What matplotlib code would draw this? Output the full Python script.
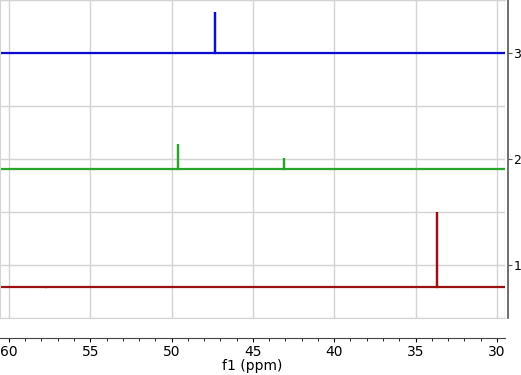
import numpy as np
import matplotlib
matplotlib.use("Agg")
import matplotlib.pyplot as plt
from matplotlib.ticker import MultipleLocator

# spectrum data
x_left, x_right = 60.55, 29.5
offsets = [0.79, 1.905, 3.0]          # baseline of each trace (1, 2, 3)
colors = ['#9b1111', '#2aa52a', '#0b0bd2']
peaks_1 = [57.7, 49.4, 33.69]
heights_1 = [0.01, 0.005, 0.71]
peaks_2 = [49.61, 43.09]
heights_2 = [0.235, 0.105]
peaks_3 = [47.34]
heights_3 = [0.39]
x_ticks = [60, 55, 50, 45, 40, 35, 30]
y_ticks = [1, 2, 3]

traces = [(peaks_1, heights_1), (peaks_2, heights_2), (peaks_3, heights_3)]


def stick_trace(peaks, heights, base):
    # baseline with vertical sticks at the peak positions
    xs = [x_left]
    ys = [base]
    for p, h in sorted(zip(peaks, heights), reverse=True):
        xs += [p, p, p]
        ys += [base, base + h, base]
    xs.append(x_right)
    ys.append(base)
    return np.array(xs), np.array(ys)


fig = plt.figure(figsize=(5.21, 3.75), dpi=100)
ax = fig.add_axes([0.0, (375 - 318) / 375, 505 / 521, 318 / 375])

for (pk, ht), base, c in zip(traces, offsets, colors):
    xs, ys = stick_trace(pk, ht, base)
    ax.plot(xs, ys, color=c, lw=1.6, solid_joinstyle='miter')

ax.set_xlim(x_left, x_right)
ax.set_ylim(0.5, 3.5)
ax.set_xticks(x_ticks)
ax.set_yticks(y_ticks)
ax.yaxis.set_minor_locator(MultipleLocator(0.5))
ax.grid(True, which='major', color='#d4d4d4', lw=1.0)
ax.grid(True, which='minor', axis='y', color='#d4d4d4', lw=1.0)
ax.set_axisbelow(True)
ax.tick_params(axis='x', bottom=False, labelbottom=False)
ax.yaxis.tick_right()
ax.tick_params(axis='y', which='minor', length=0)
ax.tick_params(axis='y', which='major', length=3, width=0.8, color='#555555',
               labelsize=9, pad=1)
ax.get_yticklabels()[2].set_fontsize(6)
for s in ['top', 'left', 'bottom']:
    ax.spines[s].set_color('#d4d4d4')
ax.spines['right'].set_color('#555555')
ax.spines['right'].set_linewidth(1.2)
ax.spines['right'].set_position(('outward', 2))
ax.axvline(x_right, color='#d4d4d4', lw=1.0, zorder=0)

# separate x axis below the traces
bx = fig.add_axes([0.0, (375 - 338) / 375, 505 / 521, 0.0001])
bx.set_xlim(x_left, x_right)
bx.set_xticks(x_ticks)
bx.xaxis.set_minor_locator(MultipleLocator(1))
bx.set_yticks([])
for s in ['top', 'left', 'right']:
    bx.spines[s].set_visible(False)
bx.spines['bottom'].set_color('#444444')
bx.tick_params(axis='x', which='major', length=3, width=0.8, labelsize=10, pad=2)
bx.tick_params(axis='x', which='minor', length=2, width=0.6)
bx.set_xlabel('f1 (ppm)', fontsize=10, labelpad=0)

fig.savefig('out.png', dpi=100)
